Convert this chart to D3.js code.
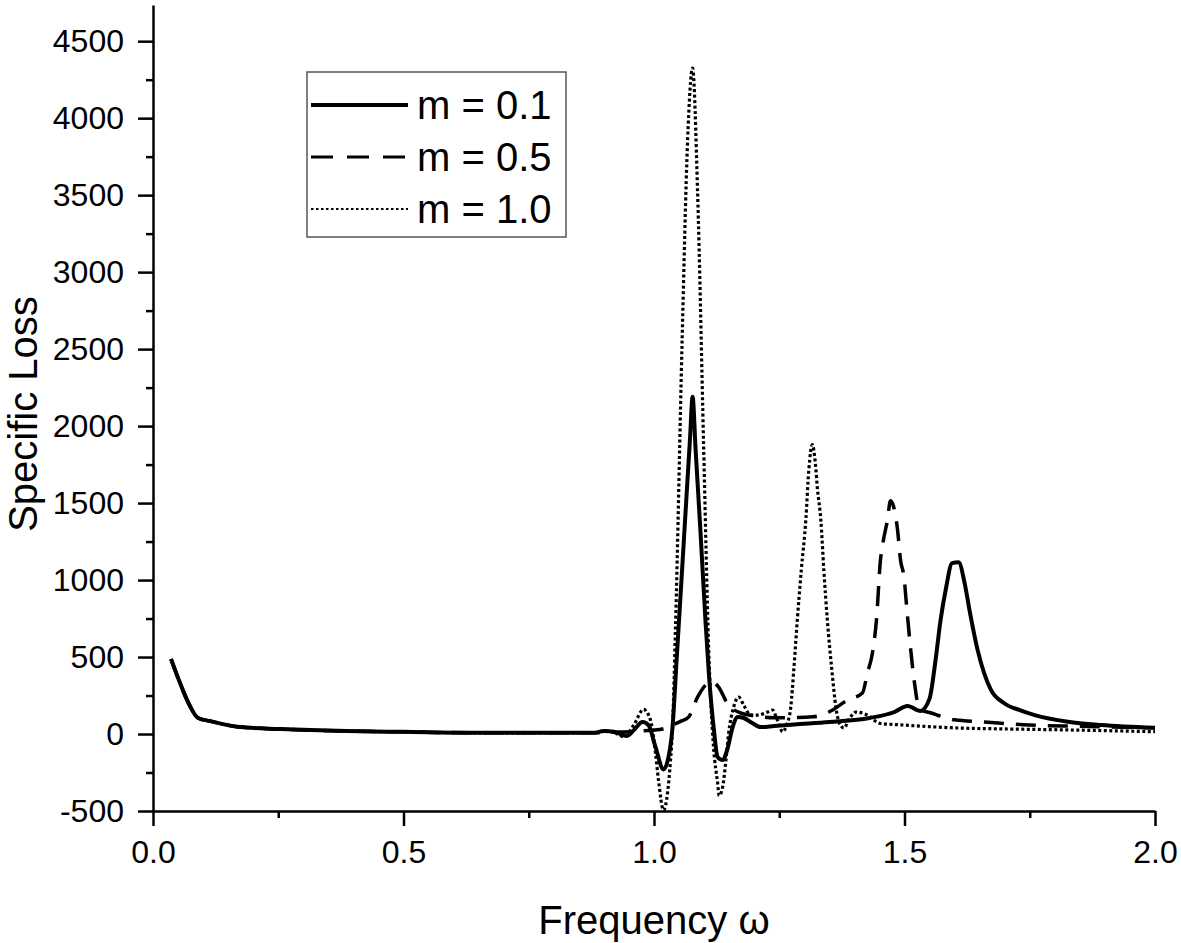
<!DOCTYPE html>
<html>
<head>
<meta charset="utf-8">
<script src="https://cdn.jsdelivr.net/npm/d3@7"></script>
<style>
  html, body { margin: 0; padding: 0; background: #fff; }
  svg { display: block; }
  text { font-family: "Liberation Sans", Arial, sans-serif; fill: #000; }
</style>
</head>
<body>
<script>
// ---------------- data ----------------
const seriesNames = ["m = 0.1", "m = 0.5", "m = 1.0"];

const omegaM01 = [0.036, 0.054, 0.071, 0.09, 0.114, 0.174, 0.254, 0.387, 0.5, 0.653, 0.8, 0.88, 0.9, 0.92, 0.945, 0.96, 0.977, 0.989, 1.003, 1.019, 1.029, 1.037, 1.045, 1.055, 1.065, 1.072, 1.077, 1.083, 1.093, 1.103, 1.11, 1.119, 1.127, 1.137, 1.146, 1.157, 1.167, 1.179, 1.196, 1.213, 1.24, 1.28, 1.35, 1.43, 1.48, 1.506, 1.532, 1.55, 1.562, 1.572, 1.583, 1.595, 1.608, 1.62, 1.63, 1.646, 1.672, 1.699, 1.73, 1.76, 1.826, 1.892, 2.0];
const lossM01  = [487, 331, 200, 104, 84, 45, 32, 19, 14, 8, 8, 8, 20, 15, -13, 26, 78, 58, -84, -230, -149, 45, 474, 1010, 1550, 1925, 2190, 1850, 1300, 720, 370, 45, -149, -169, -104, 45, 110, 104, 71, 45, 52, 62, 78, 104, 143, 182, 150, 230, 480, 740, 950, 1110, 1115, 980, 800, 545, 290, 200, 155, 123, 80, 58, 40];

const omegaM05 = [0.036, 0.054, 0.071, 0.09, 0.114, 0.174, 0.254, 0.387, 0.5, 0.653, 0.8, 0.88, 0.92, 0.95, 0.98, 1.0, 1.02, 1.037, 1.055, 1.069, 1.087, 1.103, 1.117, 1.129, 1.146, 1.17, 1.2, 1.24, 1.273, 1.317, 1.349, 1.386, 1.416, 1.426, 1.436, 1.444, 1.452, 1.458, 1.466, 1.472, 1.478, 1.486, 1.492, 1.499, 1.505, 1.512, 1.52, 1.53, 1.55, 1.6, 1.66, 1.75, 1.85, 2.0];
const lossM05  = [487, 331, 200, 104, 84, 45, 32, 19, 14, 8, 8, 8, 12, 15, 22, 25, 35, 58, 85, 110, 240, 318, 338, 305, 201, 140, 118, 105, 106, 112, 143, 220, 266, 396, 526, 740, 1130, 1260, 1390, 1515, 1480, 1330, 1130, 1020, 800, 560, 330, 160, 140, 92, 78, 58, 50, 40];

const omegaM10 = [0.036, 0.054, 0.071, 0.09, 0.114, 0.174, 0.254, 0.387, 0.5, 0.653, 0.8, 0.88, 0.9, 0.92, 0.94, 0.96, 0.979, 0.993, 1.003, 1.009, 1.019, 1.027, 1.033, 1.037, 1.043, 1.056, 1.067, 1.077, 1.087, 1.099, 1.109, 1.119, 1.127, 1.13, 1.137, 1.143, 1.149, 1.159, 1.169, 1.179, 1.193, 1.207, 1.227, 1.237, 1.245, 1.257, 1.265, 1.273, 1.279, 1.286, 1.294, 1.303, 1.309, 1.316, 1.322, 1.326, 1.333, 1.339, 1.346, 1.355, 1.363, 1.37, 1.379, 1.39, 1.403, 1.426, 1.45, 1.5, 1.6, 1.7, 1.8, 1.9, 2.0];
const lossM10  = [487, 331, 200, 104, 84, 45, 32, 19, 14, 8, 8, 8, 20, 10, -17, 60, 160, 91, -123, -300, -495, -383, -169, 45, 700, 2540, 3850, 4325, 3520, 1880, 565, -90, -318, -400, -344, -188, 6, 175, 240, 188, 123, 123, 143, 156, 100, 15, 60, 175, 416, 740, 1065, 1390, 1714, 1880, 1760, 1600, 1390, 1065, 740, 416, 175, 70, 39, 100, 143, 123, 70, 58, 40, 33, 28, 22, 15];

const xTicksMajor = [0.0, 0.5, 1.0, 1.5, 2.0];
const yTicksMajor = [-500, 0, 500, 1000, 1500, 2000, 2500, 3000, 3500, 4000, 4500];
const xTitle = "Frequency \u03c9";
const yTitle = "Specific Loss";

// ---------------- layout ----------------
const W = 1181, H = 943;
const mLeft = 153, mRight = 1155, mTop = 5, mBottom = 811;

const svg = d3.select("body").append("svg").attr("width", W).attr("height", H);

const x = d3.scaleLinear().domain([0, 2.0]).range([mLeft, mRight]);
const y = d3.scaleLinear().domain([-500, 4735]).range([mBottom, mTop]);

const xMinor = d3.range(0, 2.0001, 0.25).filter(v => !xTicksMajor.some(t => Math.abs(t - v) < 1e-9));
const yMinor = d3.range(-250, 4735, 500);

// minor ticks
svg.append("g").attr("transform", `translate(0,${mBottom})`)
  .call(d3.axisBottom(x).tickValues(xMinor).tickSize(7).tickFormat(""))
  .call(g => g.select(".domain").remove())
  .call(g => g.selectAll("line").attr("stroke", "#000").attr("stroke-width", 2.5));
svg.append("g").attr("transform", `translate(${mLeft},0)`)
  .call(d3.axisLeft(y).tickValues(yMinor).tickSize(7).tickFormat(""))
  .call(g => g.select(".domain").remove())
  .call(g => g.selectAll("line").attr("stroke", "#000").attr("stroke-width", 2.5));

// major axes
const xAxis = svg.append("g").attr("transform", `translate(0,${mBottom})`)
  .call(d3.axisBottom(x).tickValues(xTicksMajor).tickSize(15).tickSizeOuter(0).tickPadding(14).tickFormat(d3.format(".1f")));
const yAxis = svg.append("g").attr("transform", `translate(${mLeft},0)`)
  .call(d3.axisLeft(y).tickValues(yTicksMajor).tickSize(15).tickSizeOuter(0).tickPadding(14).tickFormat(d => String(d)));

[xAxis, yAxis].forEach(g => {
  g.select(".domain").attr("stroke", "#000").attr("stroke-width", 2.5);
  g.selectAll(".tick line").attr("stroke", "#000").attr("stroke-width", 2.5);
  g.selectAll(".tick text").attr("font-size", 32).attr("font-family", "Liberation Sans, Arial, sans-serif").attr("fill", "#000");
});

// titles
svg.append("text").attr("x", (mLeft + mRight) / 2).attr("y", 934)
  .attr("text-anchor", "middle").attr("font-size", 40).text(xTitle);
svg.append("text").attr("transform", `translate(37,${(mTop + mBottom) / 2 + 6}) rotate(-90)`)
  .attr("text-anchor", "middle").attr("font-size", 40).text(yTitle);

// lines
const styles = [
  { dash: null, width: 4 },
  { dash: "20,12", width: 3.5 },
  { dash: "3,2.5", width: 3.2 }
];
const seriesData = [
  d3.zip(omegaM01, lossM01),
  d3.zip(omegaM05, lossM05),
  d3.zip(omegaM10, lossM10)
];
const line = d3.line().x(d => x(d[0])).y(d => y(d[1])).curve(d3.curveMonotoneX);

// draw order: dotted, dashed, solid on top
[2, 1, 0].forEach(i => {
  svg.append("path").datum(seriesData[i])
    .attr("d", line)
    .attr("fill", "none")
    .attr("stroke", "#000")
    .attr("stroke-width", styles[i].width)
    .attr("stroke-dasharray", styles[i].dash)
    .attr("stroke-linejoin", "round");
});

// legend
const lg = svg.append("g");
lg.append("rect").attr("x", 307).attr("y", 72).attr("width", 259).attr("height", 165)
  .attr("fill", "#fff").attr("stroke", "#555").attr("stroke-width", 1.5);
const legendStyles = [
  { dash: null, width: 4 },
  { dash: "22,14", width: 3 },
  { dash: "2.5,2.5", width: 2 }
];
seriesNames.forEach((name, i) => {
  const cy = 105 + i * 52;
  lg.append("line").attr("x1", 311).attr("x2", 408).attr("y1", cy).attr("y2", cy)
    .attr("stroke", "#000").attr("stroke-width", legendStyles[i].width)
    .attr("stroke-dasharray", legendStyles[i].dash);
  lg.append("text").attr("x", 417).attr("y", cy + 14).attr("font-size", 40).text(name);
});
</script>
</body>
</html>
